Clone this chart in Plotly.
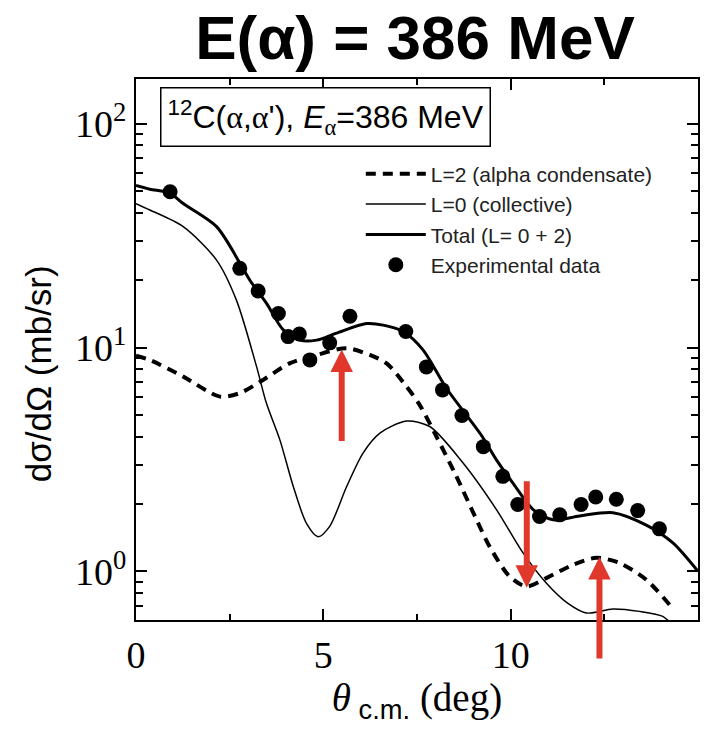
import plotly.graph_objects as go
import numpy as np

# ---- data ----
theta_L2 = [0.0, 0.37, 1.26, 2.24, 2.77, 3.39, 4.11, 4.82, 5.62, 6.24, 6.69, 7.22, 7.57, 8.02, 8.55, 9.09, 9.44, 9.97, 10.42, 10.95, 11.66, 12.29, 12.91, 13.62, 14.24]
sig_L2 = [9.2, 8.8, 7.42, 6.04, 6.26, 7.17, 8.52, 9.27, 9.94, 9.27, 8.5, 6.7, 5.55, 4.0, 2.66, 1.70, 1.29, 0.95, 0.857, 0.934, 1.07, 1.15, 1.09, 0.918, 0.71]

theta_L0 = [0.0, 0.37, 1.26, 2.15, 2.68, 3.22, 3.48, 3.84, 4.2, 4.55, 4.86, 5.17, 5.62, 6.06, 6.51, 7.22, 7.84, 8.73, 9.62, 10.33, 10.95, 11.51, 12.02, 12.73, 13.44, 14.06, 14.3]
sig_L0 = [44, 41.2, 34.7, 24.6, 16.3, 8.2, 5.65, 3.87, 2.39, 1.64, 1.43, 1.59, 2.39, 3.38, 4.15, 4.7, 4.44, 3.05, 1.89, 1.21, 0.887, 0.723, 0.652, 0.68, 0.663, 0.63, 0.58]

theta_tot = [0.0, 0.37, 0.9, 1.26, 2.15, 2.77, 3.04, 3.48, 3.93, 4.37, 4.82, 5.35, 6.15, 6.6, 7.13, 7.66, 8.28, 9.2, 9.62, 10.06, 10.6, 11.13, 11.84, 12.73, 13.62, 14.33, 15.0]
sig_tot = [53, 51, 49, 44, 34.7, 23.9, 20, 15.8, 12, 10.8, 10.8, 11.6, 12.8, 12.6, 11.8, 9.77, 6.6, 4.1, 3.15, 2.48, 1.89, 1.70, 1.77, 1.83, 1.61, 1.34, 1.0]

theta_exp = [0.91, 2.77, 3.26, 3.80, 4.06, 4.36, 4.64, 5.17, 5.71, 7.2, 7.75, 8.18, 8.7, 9.27, 9.79, 10.19, 10.77, 11.31, 11.88, 12.27, 12.82, 13.39, 13.97]
sig_exp = [49.7, 22.6, 17.9, 14.2, 11.2, 11.5, 8.81, 10.5, 13.8, 11.8, 8.2, 6.47, 4.97, 3.61, 2.66, 1.99, 1.76, 1.79, 1.99, 2.15, 2.1, 1.87, 1.55]

# red arrows: (theta, sigma at tip, pixel offset of tail)
arrow_theta = [5.49, 10.43, 12.37]
arrow_sigma = [9.8, 0.845, 1.16]
arrow_tail = [93, -108, 103]

x_ticks = [0, 5, 10, 15]
x_minor = [2.5, 7.5, 12.5]
y_ticks = [1, 10, 100]
y_ticktext = ["10<sup>0</sup>", "10<sup>1</sup>", "10<sup>2</sup>"]
y_minor = [0.7, 0.8, 0.9, 2, 3, 4, 5, 6, 7, 8, 9, 20, 30, 40, 50, 60, 70, 80, 90]

SANS = "Liberation Sans"
SERIF = "Liberation Serif"
ALPHA = "<span style='font-family:Liberation Serif'>α</span>"

fig = go.Figure()
fig.add_trace(go.Scatter(x=theta_L2, y=sig_L2, mode="lines", name="L=2 (alpha condensate)",
                         line=dict(color="black", width=4, dash="10px,7px", shape="spline", smoothing=0.8)))
fig.add_trace(go.Scatter(x=theta_L0, y=sig_L0, mode="lines", name="L=0 (collective)",
                         line=dict(color="black", width=1.5, shape="spline", smoothing=0.8)))
fig.add_trace(go.Scatter(x=theta_tot, y=sig_tot, mode="lines", name="Total (L= 0 + 2)",
                         line=dict(color="black", width=3, shape="spline", smoothing=0.8)))
fig.add_trace(go.Scatter(x=theta_exp, y=sig_exp, mode="markers", name="Experimental data",
                         marker=dict(color="black", size=15, symbol="circle")))

annotations = []
for t, s, d in zip(arrow_theta, arrow_sigma, arrow_tail):
    annotations.append(dict(x=t, y=np.log10(s), xref="x", yref="y", text="", showarrow=True,
                            ax=0, ay=d, arrowcolor="#e0392b", arrowwidth=6, arrowhead=2,
                            arrowsize=0.75, standoff=0))
annotations.append(dict(
    x=0.337, y=0.93, xref="paper", yref="paper", xanchor="center", yanchor="middle",
    text="<sup>12</sup>C(" + ALPHA + "," + ALPHA + "'), <i>E</i><sub>" + ALPHA + "</sub>=386 MeV",
    showarrow=False, font=dict(family=SANS, size=32, color="black"),
    bordercolor="black", borderwidth=1.5, borderpad=6, bgcolor="white"))

fig.update_layout(
    width=713, height=730,
    margin=dict(l=136, r=15, t=79, b=110),
    paper_bgcolor="white", plot_bgcolor="white",
    title=dict(text="E(α) = 386 MeV", x=0.582, xanchor="center", y=0.978, yanchor="top",
               font=dict(family=SANS, size=62, color="black", weight="bold")),
    showlegend=True,
    legend=dict(x=0.4, y=0.862, xanchor="left", yanchor="top", bgcolor="rgba(0,0,0,0)",
                font=dict(family=SANS, size=21, color="#222"), itemwidth=60,
                tracegroupgap=0),
    annotations=annotations,
)

fig.update_xaxes(range=[0, 15], tickvals=x_ticks, ticks="inside", ticklen=11, tickwidth=1.5,
                 tickcolor="black", showline=True, linecolor="black", linewidth=2, mirror="ticks",
                 showgrid=False, zeroline=False,
                 tickfont=dict(family=SERIF, size=38, color="black"),
                 minor=dict(tickvals=x_minor, ticks="inside", ticklen=6, tickwidth=1.5, tickcolor="black", showgrid=False),
                 title=dict(text="<i>θ</i><sub><span style='font-family:Liberation Sans'>&nbsp;c.m.</span></sub>&nbsp;(deg)",
                            font=dict(family=SERIF, size=39, color="black"), standoff=6))
fig.update_yaxes(type="log", range=[-0.217, 2.2], tickvals=y_ticks, ticktext=y_ticktext,
                 ticks="inside", ticklen=11, tickwidth=1.5, tickcolor="black",
                 showline=True, linecolor="black", linewidth=2, mirror="ticks",
                 showgrid=False, zeroline=False,
                 tickfont=dict(family=SERIF, size=38, color="black"),
                 minor=dict(tickvals=y_minor, ticks="inside", ticklen=7, tickwidth=1.5, tickcolor="black", showgrid=False),
                 title=dict(text="dσ/dΩ (mb/sr)&nbsp;&nbsp;&nbsp;&nbsp;&nbsp;",
                            font=dict(family=SANS, size=35, color="black"), standoff=13))

fig.write_html("out.html")
